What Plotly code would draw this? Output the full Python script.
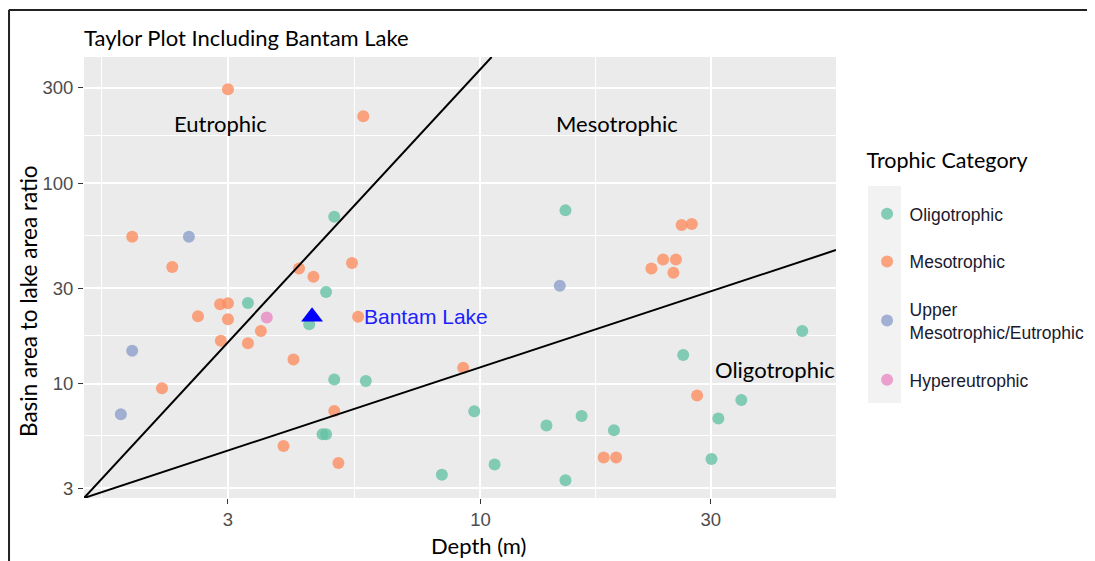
import math
import plotly.graph_objects as go

# ---------------- data ----------------
categories = ["Oligotrophic", "Mesotrophic", "Upper<br>Mesotrophic/Eutrophic", "Hypereutrophic"]
category_colors = ["#66C2A5", "#FC8D62", "#8DA0CB", "#E78AC3"]

oligo_depth = [4.98, 15.0, 4.79, 3.30, 4.42, 4.98, 5.79, 4.71, 4.79, 9.71, 13.7, 16.2,
               8.32, 10.7, 15.0, 46.4, 26.3, 34.7, 31.1, 18.9, 30.1]
oligo_ratio = [68.2, 73.4, 28.7, 25.3, 19.8, 10.5, 10.3, 5.59, 5.59, 7.28, 6.17, 6.90,
               3.51, 3.94, 3.29, 18.3, 13.9, 8.29, 6.69, 5.85, 4.20]

meso_depth = [3.0, 5.72, 1.90, 2.30, 4.21, 4.51, 5.42, 26.1, 27.4, 22.6, 23.9, 25.4, 25.1,
              2.89, 3.0, 2.60, 3.0, 3.51, 2.90, 3.30, 4.10, 2.19, 4.98, 3.91, 5.08, 5.58,
              9.21, 28.1, 18.0, 19.1]
meso_ratio = [296, 217, 54.2, 38.3, 37.6, 34.2, 40.1, 62.0, 62.7, 37.6, 41.7, 41.7, 35.8,
              24.9, 25.2, 21.7, 21.0, 18.3, 16.4, 15.9, 13.2, 9.49, 7.30, 4.88, 4.01, 21.6,
              12.0, 8.72, 4.27, 4.27]

upper_depth = [2.49, 1.90, 1.80, 14.6]
upper_ratio = [54.2, 14.6, 7.03, 30.8]

hyper_depth = [3.61]
hyper_ratio = [21.4]

bantam_depth = [4.48]
bantam_ratio = [21.6]

# boundary lines (endpoints)
eutro_line_depth = [1.51, 10.55]
eutro_line_ratio = [2.683, 428.5]
oligo_line_depth = [1.51, 54.5]
oligo_line_ratio = [2.683, 46.5]

x_limits = [1.51, 54.5]
y_limits = [2.683, 428.5]

x_ticks = [3, 10, 30]
y_ticks = [3, 10, 30, 100, 300]
x_minor = [1.643, 5.477, 17.32]
y_minor = [5.477, 17.32, 54.77, 173.2]

region_labels = ["Eutrophic", "Mesotrophic", "Oligotrophic"]
region_label_depth = [2.89, 19.2, 40.7]
region_label_ratio = [200, 200, 11.8]

series_depth = [oligo_depth, meso_depth, upper_depth, hyper_depth]
series_ratio = [oligo_ratio, meso_ratio, upper_ratio, hyper_ratio]

# ---------------- figure ----------------
CAL = "Lato, 'Open Sans', sans-serif"
ARIAL = "'Liberation Sans', Arial, sans-serif"

# the page body adds an 8px offset; size the figure so it fits the window
W, H = 1087, 553
OFF = 8

fig = go.Figure()

for name, col, xs, ys in zip(categories, category_colors, series_depth, series_ratio):
    fig.add_trace(go.Scatter(
        x=xs, y=ys, mode="markers", name=name, legendgroup=name,
        marker=dict(color=col, size=12, opacity=0.8, line=dict(width=0)),
    ))

for xs, ys in [(eutro_line_depth, eutro_line_ratio), (oligo_line_depth, oligo_line_ratio)]:
    fig.add_trace(go.Scatter(x=xs, y=ys, mode="lines", showlegend=False,
                             line=dict(color="black", width=2), hoverinfo="skip"))

fig.add_trace(go.Scatter(
    x=bantam_depth, y=bantam_ratio, mode="markers", showlegend=False, name="Bantam Lake",
    marker=dict(symbol="triangle-up", color="#0000FF", size=19, line=dict(width=0)),
))

annotations = []
for t, xd, yd in zip(region_labels, region_label_depth, region_label_ratio):
    annotations.append(dict(x=math.log10(xd), y=math.log10(yd), xref="x", yref="y",
                            text=t, showarrow=False, xanchor="center", yanchor="middle",
                            font=dict(family=CAL, size=22, color="black")))
annotations.append(dict(x=math.log10(5.68), y=math.log10(bantam_ratio[0]), xref="x", yref="y",
                        text="Bantam Lake", showarrow=False, xanchor="left", yanchor="middle",
                        font=dict(family=ARIAL, size=21, color="#2020FF")))
annotations.append(dict(x=0.524, y=-0.1066, xref="paper", yref="paper", text="Depth (m)",
                        showarrow=False, xanchor="center", yanchor="middle",
                        font=dict(family=CAL, size=22, color="black")))
annotations.append(dict(x=-0.0745, y=0.4467, xref="paper", yref="paper",
                        text="Basin area to lake area ratio", textangle=-90,
                        showarrow=False, xanchor="center", yanchor="middle",
                        font=dict(family=CAL, size=22.5, color="black")))

shapes = [
    # grey legend key strip
    dict(type="rect", xref="paper", yref="paper", x0=1.0426, x1=1.0864, y0=0.2154, y1=0.7075,
         fillcolor="#F2F2F2", line=dict(width=0), layer="below"),
    # screenshot frame
    dict(type="line", xref="paper", yref="paper", x0=-0.1, x1=1.36, y0=1.1066, y1=1.1066,
         line=dict(color="#222222", width=2)),
    dict(type="line", xref="paper", yref="paper", x0=-0.0997, x1=-0.0997, y0=1.1066, y1=-0.15,
         line=dict(color="#222222", width=2)),
]

fig.update_layout(
    width=W, height=H,
    margin=dict(l=84 - OFF, r=W - (836 - OFF), t=57 - OFF, b=H - (498 - OFF), autoexpand=False),
    paper_bgcolor="white", plot_bgcolor="#EBEBEB",
    title=dict(text="Taylor Plot Including Bantam Lake", x=(84 - OFF) / W, xanchor="left",
               y=1 - (38 - OFF) / H, yanchor="middle", xref="container", yref="container",
               font=dict(family=CAL, size=22, color="black")),
    annotations=annotations,
    shapes=shapes,
    legend=dict(
        title=dict(text="Trophic Category<br> ", font=dict(family=CAL, size=21.5, color="black")),
        x=1.038, xanchor="left", y=0.812, yanchor="top",
        bgcolor="rgba(0,0,0,0)", font=dict(family=ARIAL, size=17.5, color="#1A1A2E"),
        tracegroupgap=22, itemsizing="constant", itemwidth=35,
    ),
)

fig.update_xaxes(
    type="log", range=[math.log10(x_limits[0]), math.log10(x_limits[1])],
    tickmode="array", tickvals=x_ticks, ticktext=[str(v) for v in x_ticks],
    ticks="outside", ticklen=5, tickcolor="#333333", tickwidth=1,
    tickfont=dict(family=ARIAL, size=18.5, color="#4D4D4D"),
    showgrid=True, gridcolor="white", gridwidth=1.6, zeroline=False, showline=False,
    minor=dict(tickmode="array", tickvals=x_minor, showgrid=True, gridcolor="white",
               gridwidth=0.8, ticks=""),
)
fig.update_yaxes(
    type="log", range=[math.log10(y_limits[0]), math.log10(y_limits[1])],
    tickmode="array", tickvals=y_ticks, ticktext=[str(v) for v in y_ticks],
    ticks="outside", ticklen=5, tickcolor="#333333", tickwidth=1, ticklabelstandoff=1,
    tickfont=dict(family=ARIAL, size=18.5, color="#4D4D4D"),
    showgrid=True, gridcolor="white", gridwidth=1.6, zeroline=False, showline=False,
    minor=dict(tickmode="array", tickvals=y_minor, showgrid=True, gridcolor="white",
               gridwidth=0.8, ticks=""),
)

fig.write_html("out.html")
